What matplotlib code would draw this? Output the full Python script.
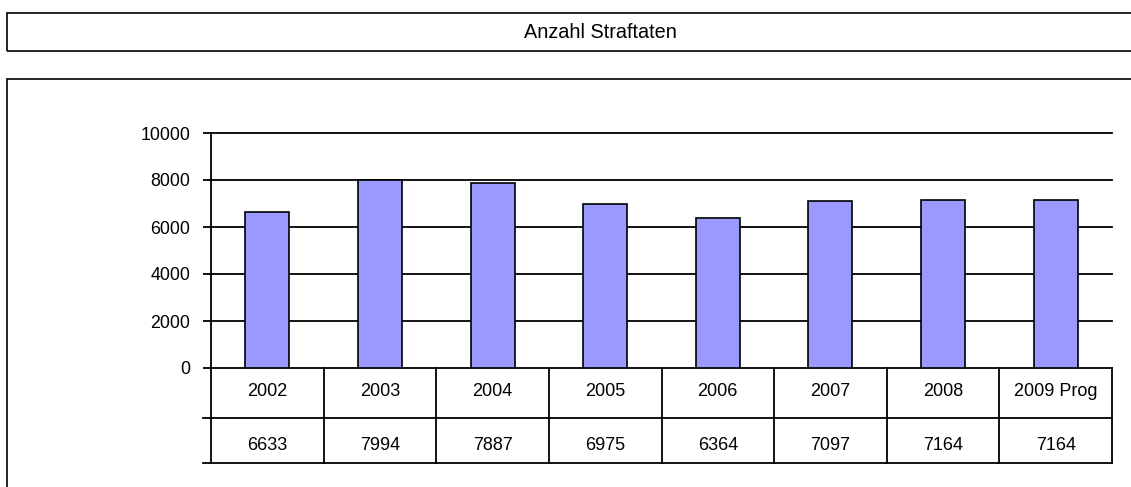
import matplotlib
matplotlib.use("Agg")
import matplotlib.pyplot as plt
from matplotlib.patches import Rectangle
from matplotlib.transforms import blended_transform_factory

plt.rcParams['font.family'] = ['Liberation Sans', 'DejaVu Sans']

title = "Anzahl Straftaten"
categories = ["2002", "2003", "2004", "2005", "2006", "2007", "2008", "2009 Prog"]
values = [6633, 7994, 7887, 6975, 6364, 7097, 7164, 7164]
yticks = [0, 2000, 4000, 6000, 8000, 10000]

W, H = 1131, 487
fig = plt.figure(figsize=(W / 100, H / 100), dpi=100)

def fx(px):
    return px / W

def fy(py):
    return 1 - py / H

# outer boxes
fig.patches.append(Rectangle((fx(7), fy(51)), fx(1140) - fx(7), fy(13) - fy(51),
                             transform=fig.transFigure, fill=False, ec='black', lw=1.2))
fig.patches.append(Rectangle((fx(7), fy(500)), fx(1140) - fx(7), fy(79) - fy(500),
                             transform=fig.transFigure, fill=False, ec='black', lw=1.2))
fig.text(fx(600), fy(32), title, ha='center', va='center', fontsize=14.3)

left, right, top, bottom = 211, 1112, 133, 368
ax = fig.add_axes([fx(left), fy(bottom), fx(right) - fx(left), fy(top) - fy(bottom)])
n = len(categories)
x = list(range(n))
ax.set_xlim(-0.5, n - 0.5)
ax.set_ylim(0, 10000)
ax.set_yticks(yticks)
ax.set_yticklabels([str(t) for t in yticks], fontsize=12.8)
ax.tick_params(axis='y', length=6, width=1.3, pad=9)
ax.set_xticks([])
for s in ['top', 'right', 'bottom']:
    ax.spines[s].set_visible(False)
ax.spines['left'].set_linewidth(1.3)
for t in yticks:
    ax.axhline(t, color='black', lw=1.3, zorder=1, clip_on=False)
ax.bar(x, values, width=0.39, color='#9999FF', edgecolor='black', lw=1.2, zorder=3)

# data table below
ph = bottom - top  # pixel height of axes
def ay(py):
    return (bottom - py) / ph

tr = blended_transform_factory(ax.transData, ax.transAxes)
row1, row2 = 418, 463
lkw = dict(color='black', lw=1.3, clip_on=False, transform=tr)
# horizontal lines
ax.plot([-0.5 - 8 / 112.6, n - 0.5], [ay(row1)] * 2, **lkw)
ax.plot([-0.5 - 8 / 112.6, n - 0.5], [ay(row2)] * 2, **lkw)
# vertical lines
for b in range(n + 1):
    ax.plot([b - 0.5, b - 0.5], [0, ay(row2)], **lkw)
for i, (c, v) in enumerate(zip(categories, values)):
    ax.text(i, ay(391), c, ha='center', va='center', fontsize=13, transform=tr)
    ax.text(i, ay(446), str(v), ha='center', va='center', fontsize=13, transform=tr)

fig.savefig("out.png", dpi=100)
